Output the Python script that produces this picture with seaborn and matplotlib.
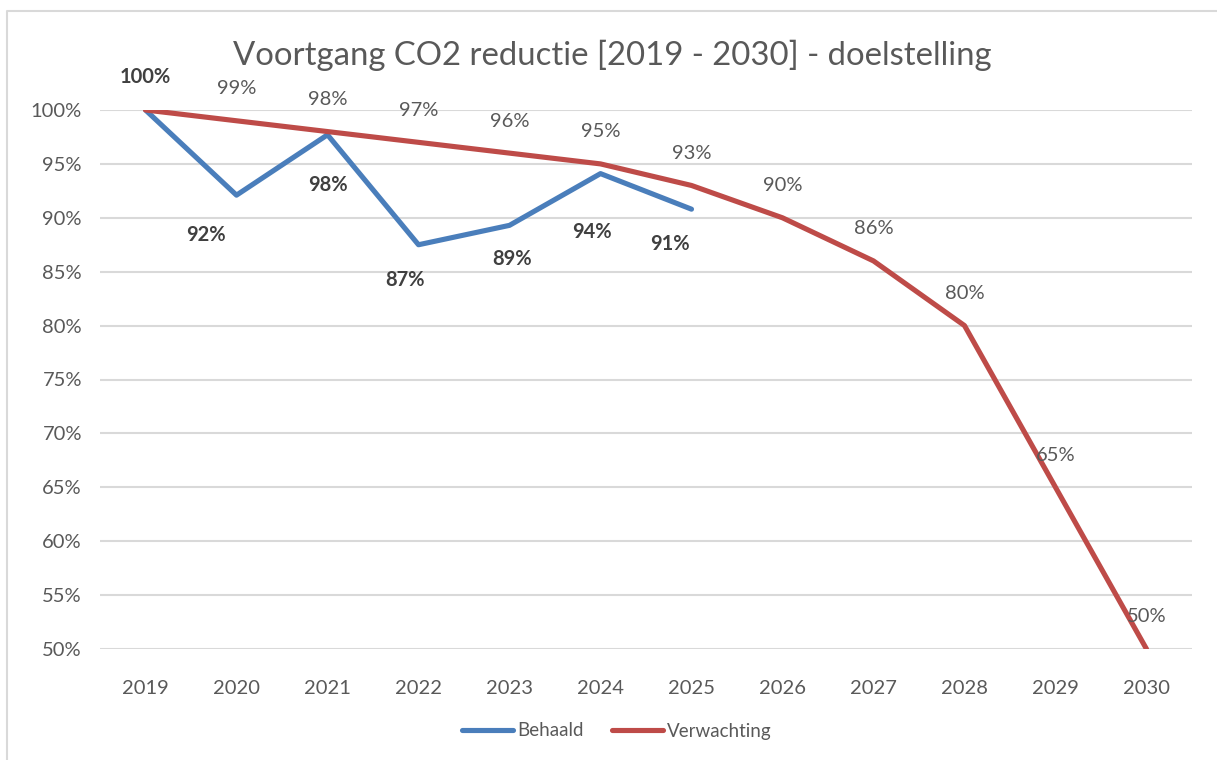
import matplotlib
matplotlib.use("Agg")
import matplotlib.pyplot as plt
import seaborn as sns
import pandas as pd
from matplotlib.lines import Line2D

years = ["2019", "2020", "2021", "2022", "2023", "2024", "2025",
         "2026", "2027", "2028", "2029", "2030"]
behaald = [100.0, 92.1, 97.7, 87.5, 89.3, 94.1, 90.8]
behaald_labels = ["100%", "92%", "98%", "87%", "89%", "94%", "91%"]
verwachting = [100, 99, 98, 97, 96, 95, 93, 90, 86, 80, 65, 50]
verwachting_labels = ["", "99%", "98%", "97%", "96%", "95%", "93%",
                      "90%", "86%", "80%", "65%", "50%"]
yticks = [50, 55, 60, 65, 70, 75, 80, 85, 90, 95, 100]
title = "Voortgang CO2 reductie [2019 - 2030] - doelstelling"

# label offsets in pixels (dx, dy; dy positive = down)
behaald_offsets = [(0, -33), (-31, 40), (0, 50), (-14, 35), (3, 34), (-9, 58), (-22, 35)]

sns.set_theme(style="white")
plt.rcParams["font.family"] = ["Lato", "DejaVu Sans"]

BLUE = "#4A7EBB"
RED = "#BE4B48"
TXT = "#595959"

df = pd.DataFrame({
    "jaar": years[:len(behaald)] + years,
    "waarde": behaald + verwachting,
    "reeks": ["Behaald"] * len(behaald) + ["Verwachting"] * len(verwachting),
})

fig = plt.figure(figsize=(12.17, 7.60), dpi=100)
ax = fig.add_axes([100 / 1217, 1 - 649 / 760, 1092 / 1217, 539 / 760])

sns.lineplot(data=df, x="jaar", y="waarde", hue="reeks",
             palette={"Behaald": BLUE, "Verwachting": RED},
             linewidth=3.7, sort=False, ax=ax, legend=False,
             solid_capstyle="round", solid_joinstyle="round")
# make red drawn on top
for ln in ax.lines:
    if matplotlib.colors.to_hex(ln.get_color()).lower() == RED.lower():
        ln.set_zorder(4)
    else:
        ln.set_zorder(3)

ax.set_xlim(-0.5, len(years) - 0.5)
ax.set_ylim(50, 100)
ax.set_yticks(yticks)
ax.set_yticklabels([f"{v}%" for v in yticks])
ax.set_xlabel("")
ax.set_ylabel("")
ax.grid(axis="y", color="#D9D9D9", linewidth=1.5, zorder=0)
ax.grid(axis="x", visible=False)
ax.set_axisbelow(True)
for s in ax.spines.values():
    s.set_visible(False)
ax.tick_params(axis="both", length=0, labelsize=14.5, colors=TXT)
ax.tick_params(axis="x", pad=22)
ax.tick_params(axis="y", pad=13)
ax.patch.set_alpha(0)

px = 72 / 100.0
for i, (v, lab) in enumerate(zip(verwachting, verwachting_labels)):
    if lab:
        ax.annotate(lab, (i, v), xytext=(0, 32 * px), textcoords="offset points",
                    ha="center", va="center", fontsize=14.5, color=TXT,
                    annotation_clip=False, zorder=6)
for i, (v, lab) in enumerate(zip(behaald, behaald_labels)):
    dx, dy = behaald_offsets[i]
    ax.annotate(lab, (i, v), xytext=(dx * px, -dy * px), textcoords="offset points",
                ha="center", va="center", fontsize=14.5, color="#404040",
                fontweight="bold", annotation_clip=False, zorder=6)

fig.text(612 / 1217, 1 - 55 / 760, title, ha="center", va="center",
         fontsize=23.7, color=TXT)

handles = [Line2D([0], [0], color=BLUE, lw=3.7, solid_capstyle="round"),
           Line2D([0], [0], color=RED, lw=3.7, solid_capstyle="round")]
fig.legend(handles, ["Behaald", "Verwachting"], loc="center",
           bbox_to_anchor=(617 / 1217, 1 - 731 / 760), ncol=2, frameon=False,
           fontsize=13.5, labelcolor=TXT, handlelength=2.7, handletextpad=0.25,
           columnspacing=1.5)

# chart area border (top and left)
fig.add_artist(Line2D([7 / 1217, 7 / 1217, 1.0], [0.0, 1 - 11 / 760, 1 - 11 / 760],
                      transform=fig.transFigure, color="#D9D9D9", linewidth=1.5))

fig.savefig("out.png", dpi=100, facecolor="white")
